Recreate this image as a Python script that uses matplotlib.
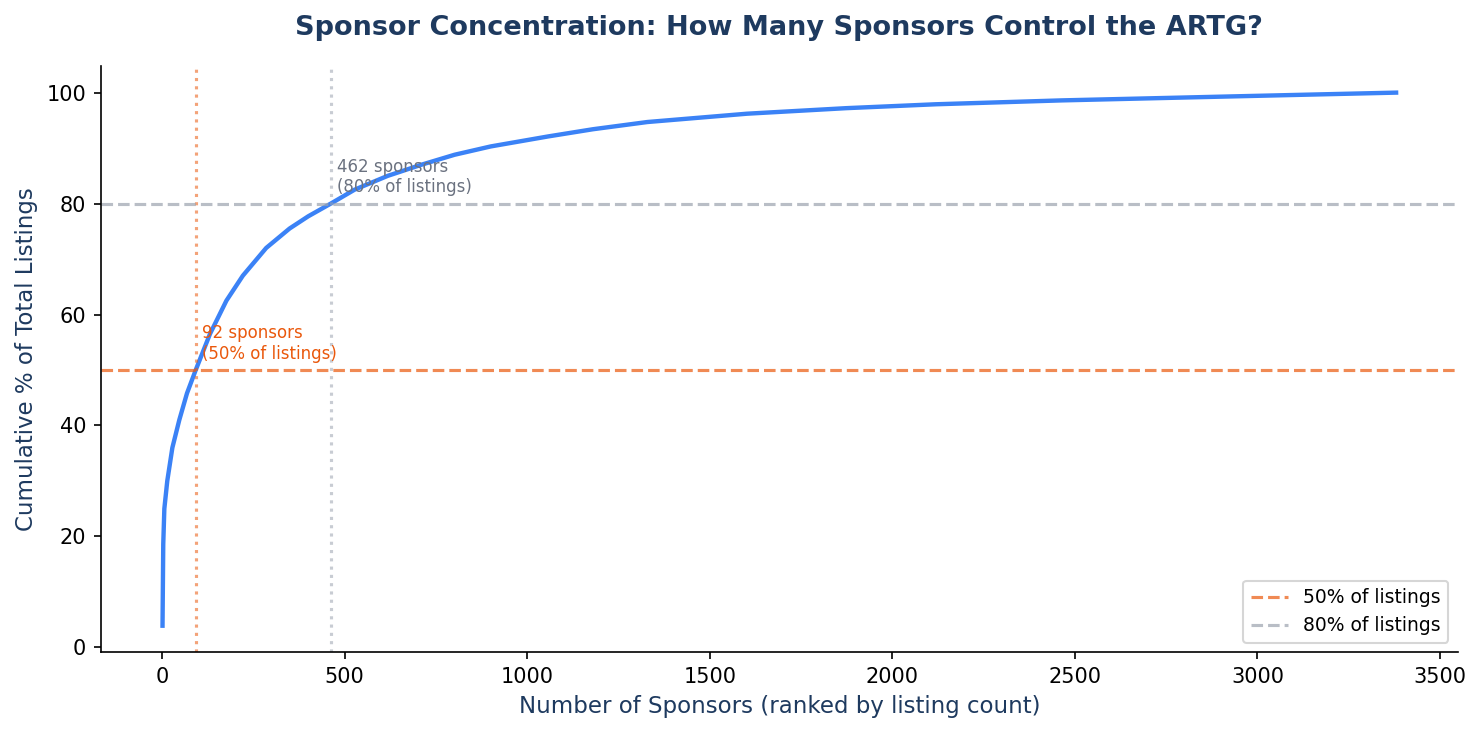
import matplotlib

matplotlib.use("Agg")
import matplotlib.pyplot as plt

# cumulative share of listings vs number of sponsors
n_sponsors = [1, 3, 6, 14, 28, 47, 68, 92, 131, 176, 221, 285, 349, 400, 462,
              527, 618, 710, 801, 900, 1057, 1180, 1329, 1602, 1874, 2119,
              2464, 2918, 3380]
cum_pct = [3.9, 18.6, 25.0, 30.0, 36.0, 41.0, 45.8, 50.0, 56.5, 62.5, 67.0,
           72.0, 75.5, 77.7, 80.0, 82.5, 85.0, 87.0, 88.8, 90.3, 92.1, 93.4,
           94.7, 96.2, 97.2, 97.9, 98.6, 99.3, 100.0]

thresholds = [50, 80]
thr_sponsors = [92, 462]
thr_colors = ["#ea580c", "#9ca3af"]
text_colors = ["#ea580c", "#6b7280"]

fig, ax = plt.subplots(figsize=(1483 / 150, 733 / 150), dpi=150)
fig.subplots_adjust(left=0.068, right=0.983, top=0.91, bottom=0.11)
ax.plot(n_sponsors, cum_pct, color="#3b82f6", linewidth=2.1)

for pct, n, c, tc in zip(thresholds, thr_sponsors, thr_colors, text_colors):
    ax.axhline(pct, color=c, linestyle="--", linewidth=1.5, alpha=0.7,
               label=f"{pct}% of listings")
    ax.axvline(n, color=c, linestyle=":", linewidth=1.5, alpha=0.55)
    ax.text(n + 18, pct + 2, f"{n} sponsors\n({pct}% of listings)",
            color=tc, fontsize=8)

ax.set_title("Sponsor Concentration: How Many Sponsors Control the ARTG?",
             fontsize=13, fontweight="bold", color="#1e3a5f", pad=15)
ax.set_xlabel("Number of Sponsors (ranked by listing count)", fontsize=11,
              color="#1e3a5f")
ax.set_ylabel("Cumulative % of Total Listings", fontsize=11, color="#1e3a5f")
ax.tick_params(labelsize=10)
ax.spines["top"].set_visible(False)
ax.spines["right"].set_visible(False)
ax.legend(loc="lower right", fontsize=9)

plt.savefig("out.png", dpi=150)
